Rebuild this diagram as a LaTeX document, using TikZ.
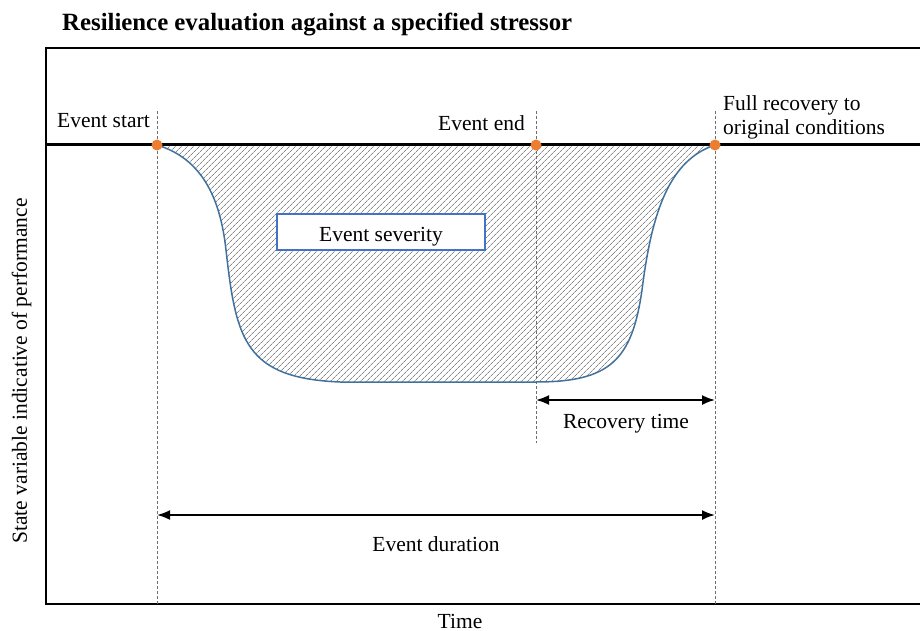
\documentclass[tikz,border=0pt]{standalone}
\usepackage{fontspec}
\setmainfont{Liberation Serif}
\usetikzlibrary{arrows.meta,patterns.meta}
\definecolor{dotorange}{RGB}{237,125,49}
\definecolor{curveblue}{RGB}{65,113,156}
\definecolor{boxblue}{RGB}{68,114,196}
\definecolor{hatchgray}{RGB}{135,135,135}
\definecolor{guidegray}{RGB}{110,110,110}
\tikzset{
  lbl/.style={font=\fontsize{21.5}{24}\selectfont, inner sep=0pt},
  evdot/.style={circle, fill=dotorange, minimum size=11pt, inner sep=0pt},
  guide/.style={guidegray, line width=0.8pt, dash pattern=on 3pt off 2pt},
  dimarrow/.style={black, line width=1.8pt, {Latex[length=13pt,width=10pt]}-{Latex[length=13pt,width=10pt]}},
  frameline/.style={black, line width=1.6pt},
  severitybox/.style={draw=boxblue, line width=1.3pt, fill=white, minimum width=208pt, minimum height=36pt, inner sep=0pt}
}
\begin{document}
\begin{tikzpicture}[x=1pt,y=-1pt]
\useasboundingbox (0,0) rectangle (920,631);
% hatched area
\fill[pattern={Lines[angle=45,distance=4pt,line width=0.8pt]}, pattern color=hatchgray]
  (157,145) .. controls (200,158) and (220,195) .. (226,250)
  .. controls (236,340) and (245,378) .. (340,382) -- (536,382)
  .. controls (610,382) and (632,360) .. (642,290)
  .. controls (652,210) and (670,160) .. (715,145) -- cycle;
% frame
\draw[frameline] (920,48) -- (46,48) -- (46,604) -- (920,604);
% guide coordinates
\coordinate (gs1) at (157,111); \coordinate (gs2) at (157,604);
\coordinate (ge1) at (536,111); \coordinate (ge2) at (536,443);
\coordinate (gr1) at (715,111); \coordinate (gr2) at (715,604);
\draw[guide] (gs1) -- (gs2);
\draw[guide] (ge1) -- (ge2);
\draw[guide] (gr1) -- (gr2);
% curve outline
\draw[curveblue, line width=1.5pt]
  (157,145) .. controls (200,158) and (220,195) .. (226,250)
  .. controls (236,340) and (245,378) .. (340,382) -- (536,382)
  .. controls (610,382) and (632,360) .. (642,290)
  .. controls (652,210) and (670,160) .. (715,145);
% baseline
\coordinate (bl) at (46,145); \coordinate (br) at (920,145);
\draw[black, line width=3pt] (bl) -- (br);
% dots
\node[evdot] (dstart) at (157,145) {};
\node[evdot] (dend) at (536,145) {};
\node[evdot] (drec) at (715,145) {};
% texts
\node[font=\fontsize{24.8}{28}\selectfont\bfseries, inner sep=0pt, anchor=base west] (title) at (62,31) {Resilience evaluation against a specified stressor};
\node[lbl, anchor=base west] (tstart) at (57,128) {Event start};
\node[lbl, anchor=base east] (tend) at (525,131) {Event end};
\node[lbl, anchor=base west] (tfull) at (723,111) {Full recovery to};
\node[lbl, anchor=base west] (torig) at (723,135) {original conditions};
\node[severitybox] (sev) at (381,232) {};
\node[lbl, anchor=base] (tsev) at (381,241) {Event severity};
% dimension arrows
\coordinate (ra) at (536,400); \coordinate (rb) at (715,400);
\draw[dimarrow] (ra) -- (rb);
\node[lbl, anchor=base] (trec) at (626,428) {Recovery time};
\coordinate (da) at (157,515); \coordinate (db) at (715,515);
\draw[dimarrow] (da) -- (db);
\node[lbl, anchor=base] (tdur) at (436,551) {Event duration};
% axis labels
\node[lbl, anchor=base] (ttime) at (460,628) {Time};
\node[lbl, anchor=base, rotate=90] (tstate) at (27,371) {State variable indicative of performance};
\end{tikzpicture}
\end{document}
